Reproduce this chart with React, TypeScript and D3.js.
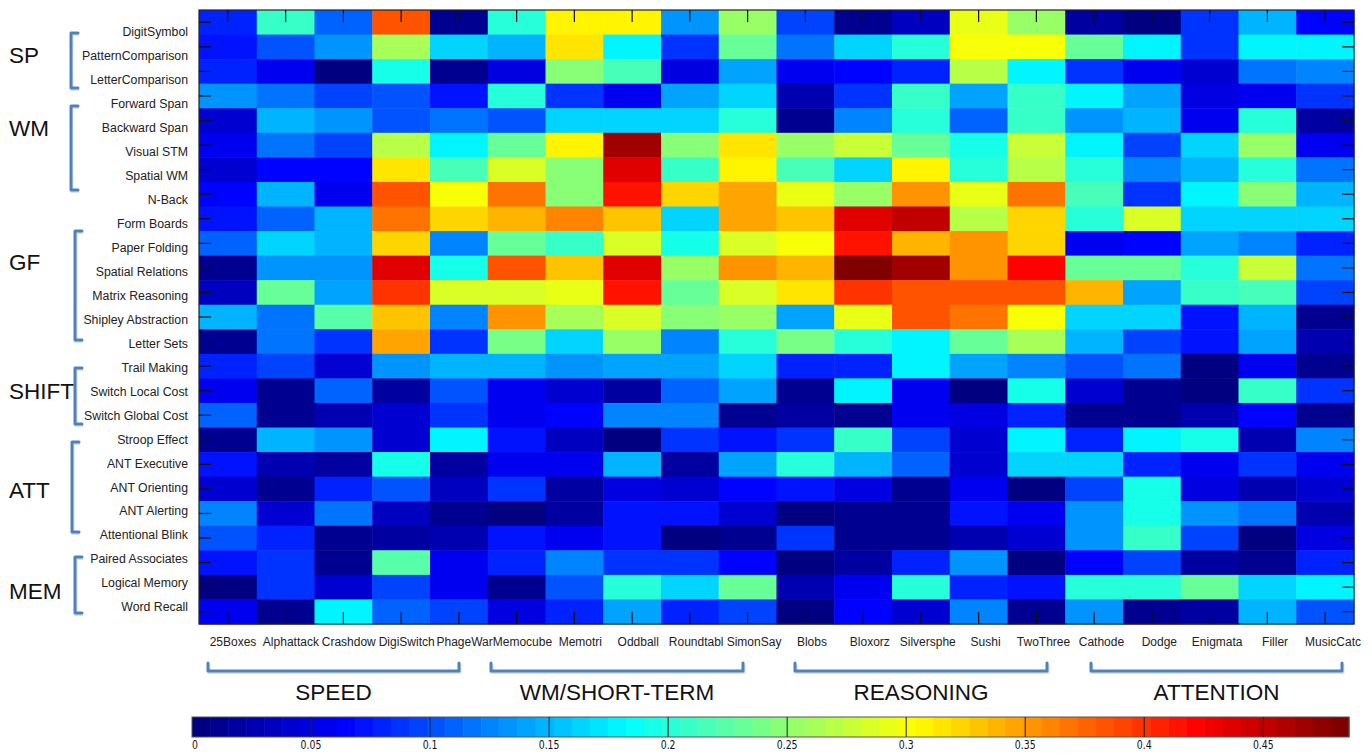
import React, { useEffect, useRef } from 'react'
import * as d3 from 'd3'

// cognitive tasks (rows) and games (columns)
const tasks = [
  'DigitSymbol', 'PatternComparison', 'LetterComparison',
  'Forward Span', 'Backward Span', 'Visual STM', 'Spatial WM', 'N-Back',
  'Form Boards', 'Paper Folding', 'Spatial Relations', 'Matrix Reasoning', 'Shipley Abstraction', 'Letter Sets',
  'Trail Making', 'Switch Local Cost', 'Switch Global Cost',
  'Stroop Effect', 'ANT Executive', 'ANT Orienting', 'ANT Alerting', 'Attentional Blink',
  'Paired Associates', 'Logical Memory', 'Word Recall',
]

const games = [
  '25Boxes', 'Alphattack', 'Crashdow', 'DigiSwitch', 'PhageWar',
  'Memocube', 'Memotri', 'Oddball', 'Roundtabl', 'SimonSay',
  'Blobs', 'Bloxorz', 'Silversphe', 'Sushi', 'TwoThree',
  'Cathode', 'Dodge', 'Enigmata', 'Filler', 'MusicCatc',
]

const taskGroups = ['SP', 'WM', 'GF', 'SHIFT', 'ATT', 'MEM']
const gameGroups = ['SPEED', 'WM/SHORT-TERM', 'REASONING', 'ATTENTION']

// one row per task, one value per game
const values = [
  [0.08, 0.21, 0.11, 0.38, 0.015, 0.20, 0.31, 0.31, 0.13, 0.258, 0.095, 0.015, 0.035, 0.295, 0.258, 0.02, 0.005, 0.085, 0.15, 0.065],
  [0.07, 0.10, 0.13, 0.265, 0.16, 0.145, 0.315, 0.175, 0.085, 0.228, 0.12, 0.16, 0.205, 0.303, 0.303, 0.235, 0.175, 0.085, 0.18, 0.18],
  [0.08, 0.055, 0.005, 0.19, 0.008, 0.05, 0.25, 0.22, 0.05, 0.14, 0.055, 0.065, 0.08, 0.27, 0.175, 0.085, 0.055, 0.04, 0.12, 0.125],
  [0.13, 0.12, 0.095, 0.10, 0.07, 0.205, 0.085, 0.058, 0.14, 0.16, 0.025, 0.085, 0.21, 0.14, 0.21, 0.18, 0.14, 0.05, 0.06, 0.09],
  [0.045, 0.15, 0.135, 0.10, 0.12, 0.10, 0.165, 0.165, 0.165, 0.20, 0.008, 0.125, 0.20, 0.11, 0.21, 0.135, 0.15, 0.055, 0.20, 0.02],
  [0.055, 0.12, 0.095, 0.27, 0.18, 0.235, 0.31, 0.465, 0.245, 0.315, 0.258, 0.275, 0.235, 0.19, 0.28, 0.18, 0.095, 0.165, 0.258, 0.055],
  [0.04, 0.065, 0.065, 0.315, 0.22, 0.285, 0.245, 0.44, 0.21, 0.31, 0.22, 0.16, 0.31, 0.205, 0.27, 0.205, 0.125, 0.15, 0.205, 0.12],
  [0.065, 0.15, 0.055, 0.38, 0.30, 0.37, 0.245, 0.415, 0.32, 0.345, 0.29, 0.258, 0.35, 0.295, 0.37, 0.22, 0.085, 0.175, 0.245, 0.15],
  [0.075, 0.11, 0.15, 0.365, 0.32, 0.335, 0.36, 0.33, 0.16, 0.345, 0.33, 0.44, 0.45, 0.27, 0.325, 0.20, 0.285, 0.165, 0.165, 0.16],
  [0.11, 0.165, 0.15, 0.325, 0.125, 0.235, 0.21, 0.285, 0.19, 0.285, 0.30, 0.415, 0.34, 0.35, 0.325, 0.058, 0.065, 0.14, 0.125, 0.08],
  [0.008, 0.135, 0.135, 0.44, 0.195, 0.38, 0.33, 0.44, 0.258, 0.355, 0.335, 0.485, 0.465, 0.35, 0.424, 0.235, 0.228, 0.205, 0.28, 0.12],
  [0.035, 0.23, 0.14, 0.395, 0.285, 0.285, 0.295, 0.415, 0.235, 0.285, 0.315, 0.40, 0.38, 0.385, 0.385, 0.34, 0.14, 0.21, 0.22, 0.095],
  [0.145, 0.12, 0.225, 0.33, 0.125, 0.35, 0.265, 0.285, 0.245, 0.258, 0.14, 0.29, 0.385, 0.365, 0.303, 0.165, 0.165, 0.07, 0.15, 0.008],
  [0.01, 0.12, 0.085, 0.345, 0.085, 0.24, 0.165, 0.258, 0.125, 0.20, 0.24, 0.20, 0.18, 0.235, 0.265, 0.15, 0.095, 0.075, 0.14, 0.03],
  [0.08, 0.095, 0.04, 0.13, 0.145, 0.145, 0.135, 0.14, 0.14, 0.165, 0.08, 0.08, 0.18, 0.14, 0.125, 0.10, 0.12, 0.005, 0.06, 0.008],
  [0.055, 0.015, 0.11, 0.018, 0.10, 0.06, 0.04, 0.02, 0.11, 0.14, 0.015, 0.18, 0.055, 0.003, 0.19, 0.04, 0.008, 0.005, 0.21, 0.09],
  [0.11, 0.015, 0.03, 0.045, 0.09, 0.06, 0.065, 0.125, 0.125, 0.008, 0.02, 0.008, 0.06, 0.05, 0.08, 0.015, 0.008, 0.028, 0.065, 0.008],
  [0.015, 0.145, 0.13, 0.045, 0.175, 0.07, 0.035, 0.002, 0.085, 0.072, 0.085, 0.21, 0.095, 0.045, 0.175, 0.08, 0.18, 0.195, 0.03, 0.125],
  [0.075, 0.03, 0.02, 0.19, 0.02, 0.058, 0.06, 0.15, 0.02, 0.14, 0.205, 0.15, 0.11, 0.045, 0.165, 0.16, 0.08, 0.06, 0.085, 0.055],
  [0.045, 0.008, 0.08, 0.10, 0.035, 0.085, 0.02, 0.05, 0.04, 0.065, 0.07, 0.05, 0.008, 0.06, 0.002, 0.095, 0.19, 0.05, 0.03, 0.045],
  [0.125, 0.04, 0.12, 0.035, 0.008, 0.003, 0.02, 0.075, 0.075, 0.045, 0.005, 0.015, 0.008, 0.072, 0.055, 0.13, 0.19, 0.135, 0.12, 0.028],
  [0.10, 0.08, 0.01, 0.02, 0.025, 0.07, 0.055, 0.075, 0.005, 0.015, 0.09, 0.015, 0.008, 0.03, 0.045, 0.13, 0.21, 0.095, 0.005, 0.05],
  [0.07, 0.09, 0.01, 0.225, 0.055, 0.078, 0.125, 0.085, 0.085, 0.065, 0.003, 0.018, 0.08, 0.135, 0.005, 0.065, 0.095, 0.02, 0.008, 0.08],
  [0.003, 0.085, 0.045, 0.095, 0.055, 0.015, 0.10, 0.20, 0.16, 0.228, 0.025, 0.06, 0.205, 0.08, 0.072, 0.205, 0.205, 0.228, 0.16, 0.175],
  [0.055, 0.008, 0.175, 0.11, 0.095, 0.05, 0.08, 0.14, 0.08, 0.095, 0.005, 0.065, 0.04, 0.125, 0.008, 0.13, 0.008, 0.02, 0.15, 0.10],
]

const colorTicks = [0, 0.05, 0.1, 0.15, 0.2, 0.25, 0.3, 0.35, 0.4, 0.45]
const colorMax = 0.486

// layout of the hand drawn brackets (pixels)
const leftBracketLayout = [
  { x: 71, top: 33, bottom: 88, labelY: 55 },
  { x: 71, top: 106, bottom: 190, labelY: 128 },
  { x: 75, top: 231, bottom: 340, labelY: 262 },
  { x: 75, top: 368, bottom: 424, labelY: 391 },
  { x: 72, top: 442, bottom: 532, labelY: 490 },
  { x: 75, top: 557, bottom: 613, labelY: 591 },
]
const bottomBracketLayout = [
  { x0: 208, x1: 459 },
  { x0: 491, x1: 743 },
  { x0: 795, x1: 1047 },
  { x0: 1091, x1: 1342 },
]

const W = 1372
const H = 753
const FONT = "'Liberation Sans', Arial, sans-serif"
const BRACKET = '#4f81bd'

// matlab style jet, 64 steps
function jet(t: number) {
  const c = (v: number) => Math.max(0, Math.min(1, v))
  const r = c(1.5 - Math.abs(4 * t - 3))
  const g = c(1.5 - Math.abs(4 * t - 2))
  const b = c(1.5 - Math.abs(4 * t - 1))
  return d3.rgb(r * 255, g * 255, b * 255).formatHex()
}
const jet64 = d3.range(64).map(i => jet(i / 63))

export default function App() {
  const ref = useRef<SVGSVGElement>(null)

  useEffect(() => {
    document.body.style.margin = '0'
    const svg = d3.select(ref.current)
    svg.selectAll('*').remove()

    const x = d3.scaleBand().domain(games).range([199, 1354])
    const y = d3.scaleBand().domain(tasks).range([10, 624])
    const color = d3.scaleQuantize<string>().domain([0, colorMax]).range(jet64)

    // cells
    const cells = values.flatMap((row, i) => row.map((v, j) => ({ task: tasks[i], game: games[j], v })))
    svg.append('g')
      .selectAll('rect')
      .data(cells)
      .join('rect')
      .attr('x', d => x(d.game)!)
      .attr('y', d => y(d.task)!)
      .attr('width', x.bandwidth() + 0.5)
      .attr('height', y.bandwidth() + 0.5)
      .attr('fill', d => color(d.v))

    // frame + inner ticks
    svg.append('rect')
      .attr('x', 199).attr('y', 10)
      .attr('width', 1155).attr('height', 614)
      .attr('fill', 'none').attr('stroke', '#222').attr('stroke-width', 1.2)

    const ticks = svg.append('g').attr('stroke', '#111').attr('stroke-width', 1.2)
    games.forEach(g => {
      const cx = x(g)! + x.bandwidth() / 2
      ticks.append('line').attr('x1', cx).attr('x2', cx).attr('y1', 10).attr('y2', 22)
      ticks.append('line').attr('x1', cx).attr('x2', cx).attr('y1', 624).attr('y2', 612)
    })
    tasks.forEach(t => {
      const cy = y(t)! + y.bandwidth() / 2
      ticks.append('line').attr('x1', 199).attr('x2', 211).attr('y1', cy).attr('y2', cy)
      ticks.append('line').attr('x1', 1354).attr('x2', 1342).attr('y1', cy).attr('y2', cy)
    })

    // row labels (placed slightly below the row centres, as in the figure)
    const rowLabel = d3.scalePoint().domain(tasks).range([32.3, 607.3])
    svg.append('g')
      .selectAll('text')
      .data(tasks)
      .join('text')
      .attr('x', 188)
      .attr('y', d => rowLabel(d)!)
      .attr('text-anchor', 'end')
      .attr('dominant-baseline', 'central')
      .style('font-family', FONT)
      .style('font-size', '12.3px')
      .attr('fill', '#222')
      .text(d => d)

    // column labels
    const colLabel = d3.scalePoint().domain(games).range([233, 1333])
    svg.append('g')
      .selectAll('text')
      .data(games)
      .join('text')
      .attr('x', d => colLabel(d)!)
      .attr('y', 642)
      .attr('text-anchor', 'middle')
      .attr('dominant-baseline', 'central')
      .style('font-family', FONT)
      .style('font-size', '12px')
      .attr('fill', '#222')
      .text(d => d)

    // left brackets + group names
    const left = svg.append('g')
    taskGroups.forEach((name, i) => {
      const b = leftBracketLayout[i]
      const p = `M${b.x + 7},${b.top} H${b.x} V${b.bottom} H${b.x + 7}`
      left.append('path').attr('d', p).attr('transform', 'translate(1,1.5)')
        .attr('fill', 'none').attr('stroke', '#9aa').attr('stroke-opacity', 0.35).attr('stroke-width', 3)
      left.append('path').attr('d', p)
        .attr('fill', 'none').attr('stroke', BRACKET).attr('stroke-width', 3)
        .attr('stroke-linejoin', 'round').attr('stroke-linecap', 'round')
      left.append('text')
        .attr('x', 9).attr('y', b.labelY)
        .attr('dominant-baseline', 'central')
        .style('font-family', FONT).style('font-size', '22.5px')
        .attr('fill', '#111')
        .text(name)
    })

    // bottom brackets + group names
    const bottom = svg.append('g')
    gameGroups.forEach((name, i) => {
      const b = bottomBracketLayout[i]
      const p = `M${b.x0},663 V671 H${b.x1} V663`
      bottom.append('path').attr('d', p).attr('transform', 'translate(1,1.5)')
        .attr('fill', 'none').attr('stroke', '#9aa').attr('stroke-opacity', 0.35).attr('stroke-width', 3)
      bottom.append('path').attr('d', p)
        .attr('fill', 'none').attr('stroke', BRACKET).attr('stroke-width', 3)
        .attr('stroke-linejoin', 'round').attr('stroke-linecap', 'round')
      bottom.append('text')
        .attr('x', (b.x0 + b.x1) / 2).attr('y', 692)
        .attr('text-anchor', 'middle')
        .attr('dominant-baseline', 'central')
        .style('font-family', FONT).style('font-size', '22.5px')
        .attr('fill', '#111')
        .text(name)
    })

    // colour bar
    const cb = d3.scaleLinear().domain([0, colorMax]).range([192, 1349])
    const bar = svg.append('g')
    const step = colorMax / 64
    bar.selectAll('rect')
      .data(jet64)
      .join('rect')
      .attr('x', (_, i) => cb(i * step))
      .attr('y', 717)
      .attr('width', cb(step) - cb(0) + 0.5)
      .attr('height', 20)
      .attr('fill', d => d)
    bar.append('rect')
      .attr('x', 192).attr('y', 717).attr('width', 1349 - 192).attr('height', 20)
      .attr('fill', 'none').attr('stroke', '#555').attr('stroke-width', 1)
    bar.selectAll('line')
      .data(colorTicks.slice(1))
      .join('line')
      .attr('x1', d => cb(d)).attr('x2', d => cb(d))
      .attr('y1', 717).attr('y2', 737)
      .attr('stroke', '#222').attr('stroke-width', 1)
    // narrow tick labels like the original colour bar
    bar.selectAll('text')
      .data(colorTicks)
      .join('text')
      .attr('transform', d => `translate(${cb(d)},748.5) scale(0.78,1)`)
      .attr('text-anchor', d => (d === 0 ? 'start' : 'middle'))
      .style('font-family', "'DejaVu Sans', sans-serif")
      .style('font-size', '12px')
      .attr('fill', '#111')
      .text(d => String(d))
  }, [])

  return <svg ref={ref} width={W} height={H} style={{ display: 'block', background: '#fff' }} />
}
